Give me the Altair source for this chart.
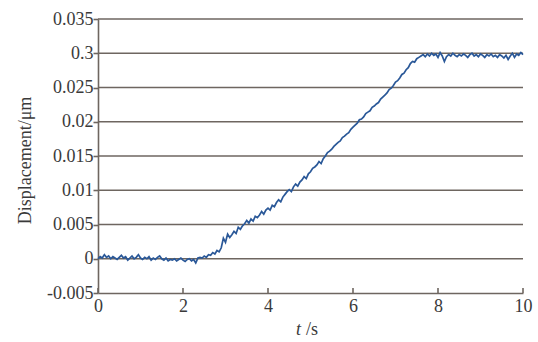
import altair as alt
import pandas as pd

# sampling interval of the displacement record (s)
dt = 0.05

# displacement samples (µm-labelled axis), t = 0 .. 10 s
disp_flat_start = [
    0.0000, 0.0003, 0.0001, 0.0006, 0.0002, 0.0004, 0.0000, 0.0003, 0.0001, -0.0001,
    0.0002, 0.0005, 0.0001, 0.0003, -0.0002, 0.0001, 0.0004, 0.0000, 0.0002, 0.0006,
    0.0001, -0.0001, 0.0002, 0.0000, 0.0003, -0.0002, 0.0001, -0.0001, 0.0002, 0.0004,
    0.0000, -0.0002, 0.0001, -0.0003, -0.0001, -0.0002, 0.0000, -0.0003, -0.0001, 0.0001,
    -0.0002, -0.0004, -0.0001, 0.0000, -0.0003, -0.0001, -0.0006, 0.0001, 0.0002,
]
disp_ramp = [
    0.0001, 0.0004, 0.0002, 0.0006, 0.0005, 0.0009, 0.0007, 0.0012, 0.0010, 0.0016,
    0.0030, 0.0024, 0.0036, 0.0031, 0.0035, 0.0040, 0.0037, 0.0046, 0.0043, 0.0048,
    0.0051, 0.0056, 0.0052, 0.0058, 0.0055, 0.0062, 0.0060, 0.0064, 0.0069, 0.0065,
    0.0071, 0.0074, 0.0071, 0.0078, 0.0076, 0.0082, 0.0086, 0.0083, 0.0090, 0.0094,
    0.0098, 0.0101, 0.0098, 0.0105, 0.0109, 0.0106, 0.0112, 0.0115, 0.0120, 0.0117,
    0.0124, 0.0127, 0.0132, 0.0134, 0.0137, 0.0142, 0.0139, 0.0146, 0.0150, 0.0155,
    0.0157, 0.0160, 0.0164, 0.0167, 0.0170, 0.0172, 0.0177, 0.0179, 0.0182, 0.0184,
    0.0189, 0.0192, 0.0195, 0.0198, 0.0203, 0.0204, 0.0207, 0.0212, 0.0214, 0.0216,
    0.0221, 0.0223, 0.0226, 0.0228, 0.0233, 0.0236, 0.0239, 0.0242, 0.0247, 0.0249,
    0.0253, 0.0258, 0.0260, 0.0264, 0.0269, 0.0271, 0.0276, 0.0279, 0.0285, 0.0288,
    0.0287, 0.0292, 0.0294, 0.0296,
]
disp_flat_end = [
    0.0298, 0.0295, 0.0299, 0.0296, 0.0300, 0.0297, 0.0299, 0.0294, 0.0301, 0.0296,
    0.0288, 0.0295, 0.0298, 0.0296, 0.0300, 0.0297, 0.0295, 0.0298, 0.0296, 0.0299,
    0.0297, 0.0294, 0.0298, 0.0300, 0.0296, 0.0298, 0.0295, 0.0299, 0.0297, 0.0294,
    0.0298, 0.0296, 0.0299, 0.0295, 0.0297, 0.0294, 0.0298, 0.0296, 0.0293, 0.0297,
    0.0291, 0.0296, 0.0300, 0.0294, 0.0299, 0.0297, 0.0301, 0.0298,
]

# axis ticks and labels (the 0.03 label reads "0.3" in the original)
y_tick_values = [-0.005, 0, 0.005, 0.01, 0.015, 0.02, 0.025, 0.03, 0.035]
y_tick_labels = ["-0.005", "0", "0.005", "0.01", "0.015", "0.02", "0.025", "0.3", "0.035"]
x_tick_values = [0, 2, 4, 6, 8, 10]

disp = disp_flat_start + disp_ramp + disp_flat_end
t = [round(i * dt, 2) for i in range(len(disp))]
df = pd.DataFrame({"t": t, "d": disp})

# label expression built from the tick arrays
expr = "''"
for v, lab in zip(reversed(y_tick_values), reversed(y_tick_labels)):
    expr = f"(abs(datum.value - ({v})) < 1e-9 ? '{lab}' : {expr})"

AX = "#6e6660"
FONT = "Liberation Serif"
TXT = "#3a3a3a"
FS = 18

W, H = 425, 274

grid_df = pd.DataFrame({"g": [v for v in y_tick_values if v > -0.005]})
xt_df = pd.DataFrame({"xt": x_tick_values})

ysc = alt.Scale(domain=[-0.005, 0.035], nice=False, zero=False)
xsc = alt.Scale(domain=[0, 10], nice=False)

x_axis = alt.Axis(
    values=x_tick_values,
    format="d",
    title=None,
    ticks=False,
    labelPadding=4,
    labelFlush=False,
    labelOverlap=False,
)
y_axis = alt.Axis(
    values=y_tick_values,
    labelExpr=expr,
    title="Displacement/μm",
    tickSize=5,
    labelPadding=0,
    titlePadding=12,
    titleY=141,
    labelFlush=False,
    labelOverlap=False,
)

grid = alt.Chart(grid_df).mark_rule(color=AX, strokeWidth=1.6).encode(
    y=alt.Y("g:Q", scale=ysc, axis=y_axis),
    x=alt.value(0),
    x2=alt.value(W),
)

# inward x ticks
xticks = alt.Chart(xt_df).mark_rule(color=AX, strokeWidth=1.6).encode(
    x=alt.X("xt:Q", scale=xsc, axis=x_axis),
    y=alt.value(H),
    y2=alt.value(H - 5),
)

line = alt.Chart(df).mark_line(color="#2a5898", strokeWidth=1.7).encode(
    x=alt.X("t:Q", scale=xsc, axis=x_axis),
    y=alt.Y("d:Q", scale=ysc, axis=y_axis),
)

t_title = alt.Chart(pd.DataFrame({"s": ["t"]})).mark_text(
    font=FONT, fontSize=FS, fontStyle="italic", color=TXT, align="right", baseline="alphabetic"
).encode(text="s:N", x=alt.value(203), y=alt.value(316))
s_title = alt.Chart(pd.DataFrame({"s": ["/s"]})).mark_text(
    font=FONT, fontSize=FS, color=TXT, align="left", baseline="alphabetic"
).encode(text="s:N", x=alt.value(208), y=alt.value(316))

chart = (
    alt.layer(grid, xticks, line, t_title, s_title)
    .properties(
        width=W,
        height=H,
        autosize=alt.AutoSizeParams(type="none"),
        padding={"left": 98, "top": 19, "right": 15, "bottom": 49},
    )
    .configure_view(stroke=None)
    .configure_axis(
        grid=False,
        labelOverlap=False,
        domainColor=AX,
        tickColor=AX,
        domainWidth=1.6,
        tickWidth=1.6,
        labelFont=FONT,
        titleFont=FONT,
        labelFontSize=FS,
        titleFontSize=FS,
        labelColor=TXT,
        titleColor=TXT,
        titleFontWeight="normal",
    )
)

chart.save("out.html", embed_options={"renderer": "svg", "actions": False})
